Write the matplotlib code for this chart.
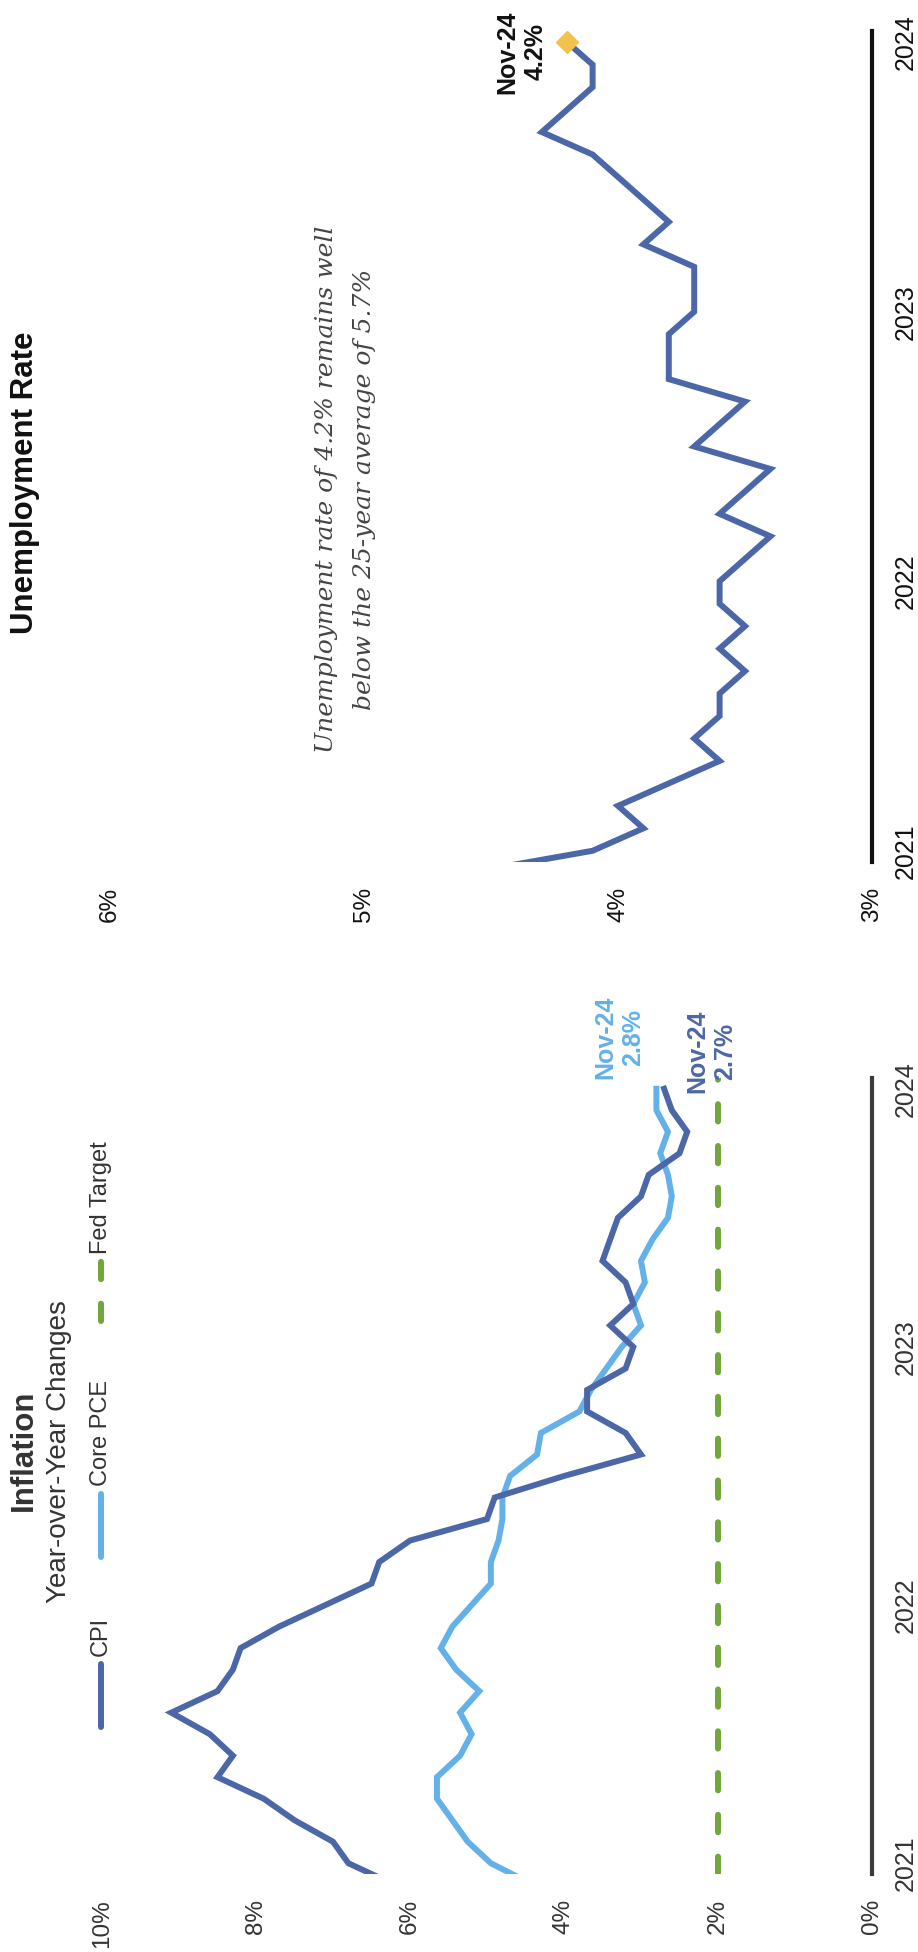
import matplotlib
matplotlib.use("Agg")
import matplotlib.pyplot as plt
import numpy as np

plt.rcParams['font.family'] = ['Liberation Sans', 'DejaVu Sans']

# Monthly readings, Oct-2021 .. Nov-2024 (Oct-2021 sits just outside the axis)
years = ['2021', '2022', '2023', '2024']
year_pos = [0, 12, 24, 36]          # the November of each year
cpi = [6.2, 6.8, 7.0, 7.5, 7.9, 8.5, 8.3, 8.6, 9.1, 8.5, 8.3, 8.2, 7.7, 7.1,
       6.5, 6.4, 6.0, 5.0, 4.9, 4.0, 3.0, 3.2, 3.7, 3.7, 3.2, 3.1, 3.4, 3.1,
       3.2, 3.5, 3.4, 3.3, 3.0, 2.9, 2.5, 2.4, 2.6, 2.7]
core_pce = [4.4, 4.95, 5.25, 5.45, 5.65, 5.65, 5.35, 5.2, 5.35, 5.1, 5.4, 5.6,
            5.45, 5.2, 4.95, 4.95, 4.85, 4.8, 4.8, 4.7, 4.35, 4.3, 3.8, 3.65,
            3.45, 3.25, 3.0, 3.1, 2.95, 3.0, 2.85, 2.65, 2.6, 2.65, 2.75, 2.65,
            2.8, 2.8]
unemployment = [4.6, 4.1, 3.9, 4.0, 3.8, 3.6, 3.7, 3.6, 3.6, 3.5, 3.6, 3.5,
                3.6, 3.6, 3.5, 3.4, 3.6, 3.5, 3.4, 3.7, 3.6, 3.5, 3.8, 3.8,
                3.8, 3.7, 3.7, 3.7, 3.9, 3.8, 3.9, 4.0, 4.1, 4.3, 4.2, 4.1,
                4.1, 4.2]
fed_target = 2.0
infl_ticks = [0, 2, 4, 6, 8, 10]
unemp_ticks = [3, 4, 5, 6]
last_label = 'Nov-24'

t = np.arange(-1, len(cpi) - 1)

DARK = '#4C67A8'
LIGHT = '#63B1E8'
GREEN = '#72A53B'
GOLD = '#F2C14E'
LW = 4.3

W, H = 918, 1952
fig = plt.figure(figsize=(W / 100, H / 100), dpi=100)


def rect(left, top, right, bottom):
    return [left / W, 1 - bottom / H, (right - left) / W, (bottom - top) / H]


def fxy(x, y):
    return x / W, 1 - y / H


def style_axis(ax, lo, hi, ticks, axis_color, text_color):
    ax.set_xlim(hi, lo)
    ax.set_ylim(-0.5, 36.5)
    for s in ['top', 'bottom', 'left']:
        ax.spines[s].set_visible(False)
    ax.spines['right'].set_color(axis_color)
    ax.spines['right'].set_linewidth(3)
    ax.set_xticks(ticks)
    ax.set_xticklabels([f'{v}%' for v in ticks], rotation=90,
                       fontsize=17.5, color=text_color)
    ax.tick_params(axis='x', length=0, pad=18)
    ax.yaxis.tick_right()
    ax.set_yticks(year_pos)
    ax.set_yticklabels(years, rotation=90, va='center', ha='left',
                       fontsize=18, color=text_color)
    ax.tick_params(axis='y', length=0, pad=16)
    ax.patch.set_alpha(0)


# ---- Inflation panel ----
ax1 = fig.add_axes(rect(102, 1078, 872, 1874))
style_axis(ax1, 0, 10, infl_ticks, '#3c3c3c', '#333333')
ax1.axvline(fed_target, color=GREEN, lw=LW, dashes=(2.9, 4.1),
            dash_capstyle='round')
ax1.plot(core_pce, t, color=LIGHT, lw=LW, solid_joinstyle='miter')
ax1.plot(cpi, t, color=DARK, lw=LW, solid_joinstyle='miter')

ax1.annotate(f'{last_label}\n{core_pce[-1]:.1f}%', (core_pce[-1], t[-1]),
             xytext=(-27, 37), textcoords='offset points', rotation=90,
             ha='center', va='center', ma='center', fontsize=18,
             fontweight='bold', color=LIGHT, annotation_clip=False)
ax1.annotate(f'{last_label}\n{cpi[-1]:.1f}%', (cpi[-1], t[-1]),
             xytext=(34, 27), textcoords='offset points', rotation=90,
             ha='center', va='center', ma='center', fontsize=18,
             fontweight='bold', color=DARK, annotation_clip=False)

fig.text(*fxy(24, 1450), 'Inflation', rotation=90, ha='center', va='center',
         fontsize=22.5, fontweight='bold', color='#333333')
fig.text(*fxy(59, 1452), 'Year-over-Year Changes', rotation=90, ha='center',
         va='center', fontsize=20, color='#333333')

# legend, laid out along the rotated page
leg = fig.add_axes([0, 0, 1, 1])
leg.set_xlim(0, W)
leg.set_ylim(H, 0)
leg.axis('off')
leg.plot([101, 101], [1727, 1664], color=DARK, lw=LW, solid_capstyle='round')
leg.plot([101, 101], [1557, 1494], color=LIGHT, lw=LW, solid_capstyle='round')
leg.plot([101, 101], [1321, 1259], color=GREEN, lw=LW, dashes=(2.9, 4.1),
         dash_capstyle='round')
leg.text(101, 1656, 'CPI', rotation=90, ha='center', va='bottom',
         fontsize=17, color='#333333')
leg.text(101, 1486, 'Core PCE', rotation=90, ha='center', va='bottom',
         fontsize=17, color='#333333')
leg.text(101, 1254, 'Fed Target', rotation=90, ha='center', va='bottom',
         fontsize=17, color='#333333')

# ---- Unemployment panel ----
ax2 = fig.add_axes(rect(110, 31, 872, 862))
style_axis(ax2, 3, 6, unemp_ticks, '#111111', '#111111')
ax2.plot(unemployment, t, color=DARK, lw=LW, solid_joinstyle='miter')
ax2.plot(unemployment[-1], t[-1], marker='D', ms=11, color=GOLD, zorder=5)
ax2.annotate(f'{last_label}\n{unemployment[-1]:.1f}%',
             (unemployment[-1], t[-1]), xytext=(-33, -7),
             textcoords='offset points', rotation=90, ha='center',
             va='center', ma='center', fontsize=18, fontweight='bold',
             color='#111111', annotation_clip=False)

fig.text(*fxy(25, 483), 'Unemployment Rate', rotation=90, ha='center',
         va='center', fontsize=22.5, fontweight='bold', color='#111111')
fig.text(*fxy(326, 489), 'Unemployment rate of 4.2% remains well',
         rotation=90, ha='center', va='center', fontsize=18,
         family='DejaVu Serif', style='italic', color='#444444')
fig.text(*fxy(364, 489), 'below the 25-year average of 5.7%',
         rotation=90, ha='center', va='center', fontsize=18,
         family='DejaVu Serif', style='italic', color='#444444')

fig.savefig('out.png', dpi=100, facecolor='white')
